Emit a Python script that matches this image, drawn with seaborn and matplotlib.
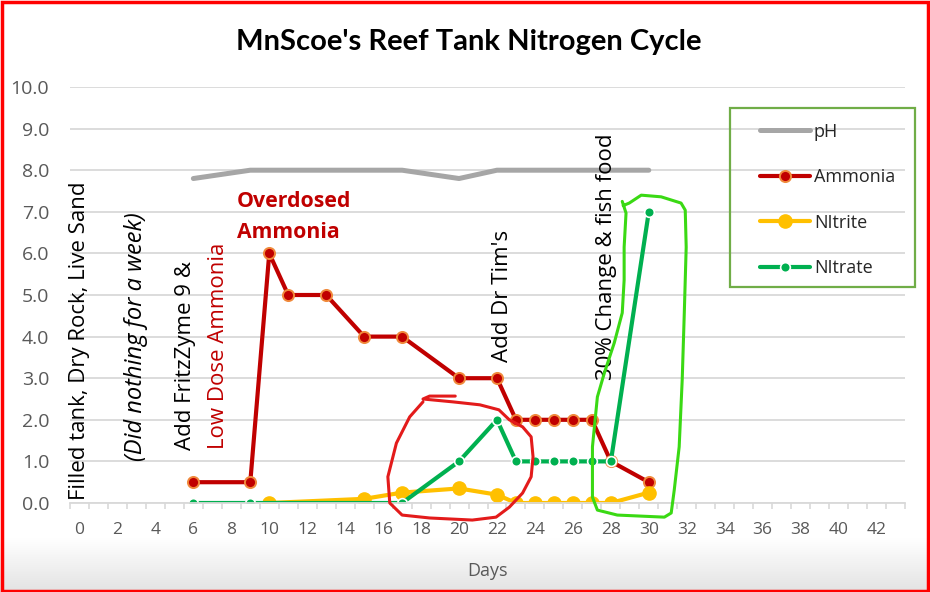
import matplotlib
matplotlib.use('Agg')
import matplotlib.pyplot as plt
import seaborn as sns
import numpy as np
from matplotlib.patches import Rectangle

sns.set_style('white')
plt.rcParams['font.family'] = ['Open Sans', 'DejaVu Sans']

# readings per day
ph_days = [6, 9, 10, 11, 13, 15, 17, 20, 22, 23, 24, 25, 26, 27, 28, 30]
ph = [7.8, 8.0, 8.0, 8.0, 8.0, 8.0, 8.0, 7.8, 8.0, 8.0, 8.0, 8.0, 8.0, 8.0, 8.0, 8.0]

ammonia_days = [6, 9, 10, 11, 13, 15, 17, 20, 22, 23, 24, 25, 26, 27, 28, 30]
ammonia = [0.5, 0.5, 6.0, 5.0, 5.0, 4.0, 4.0, 3.0, 3.0, 2.0, 2.0, 2.0, 2.0, 2.0, 1.0, 0.5]

nitrite_days = [10, 15, 17, 20, 22, 23, 24, 25, 26, 27, 28, 30]
nitrite = [0.0, 0.1, 0.25, 0.35, 0.2, 0.0, 0.0, 0.0, 0.0, 0.0, 0.0, 0.25]

nitrate_days = [6, 9, 17, 20, 22, 23, 24, 25, 26, 27, 28, 30]
nitrate = [0.0, 0.0, 0.0, 1.0, 2.0, 1.0, 1.0, 1.0, 1.0, 1.0, 1.0, 7.0]

x_labels = list(range(0, 43, 2))
y_ticks = [float(v) for v in range(0, 11)]

# hand drawn loops (day, value)
red_loop_x = [18.1, 17.4, 16.7, 16.25, 16.35, 17.0, 18.45, 20.7, 21.95, 22.65, 23.35, 23.8, 23.9,
              23.8, 23.35, 22.65, 22.1, 21.1, 19.7, 18.1, 18.45, 19.8]
red_loop_y = [2.43, 2.07, 1.44, 0.63, 0.0, -0.29, -0.36, -0.41, -0.34, -0.1, 0.24, 0.63, 1.11,
              1.59, 1.83, 2.0, 2.24, 2.36, 2.43, 2.5, 2.57, 2.57]
green_loop_x = [28.65, 28.97, 29.6, 30.65, 31.7, 31.92, 31.97, 31.87, 31.76, 31.6, 31.34, 31.18,
                30.82, 28.34, 27.29, 27.03, 27.03, 27.29, 27.66, 28.18, 28.6, 28.7, 28.7, 28.8, 28.6]
green_loop_y = [7.15, 7.21, 7.4, 7.36, 7.21, 7.04, 6.15, 4.57, 2.96, 1.35, 0.31, -0.24,
                -0.34, -0.29, -0.17, 0.14, 1.35, 2.55, 3.13, 3.85, 4.57, 5.36, 6.15, 6.97, 7.25]

fig = plt.figure(figsize=(9.3, 5.92), dpi=100)

# light grey fade at the bottom of the chart area
bg = fig.add_axes([0, 0, 1, 1], zorder=-5)
bg.axis('off')
fade = np.linspace(1.0, 0.89, 60).reshape(-1, 1, 1) * np.ones((1, 1, 3))
bg.imshow(fade, extent=[0, 1, 0, 54 / 592], aspect='auto')
bg.set_xlim(0, 1)
bg.set_ylim(0, 1)

ax = fig.add_axes([70 / 930, 89 / 592, 835 / 930, 416 / 592])
ax.set_facecolor('white')

sns.lineplot(x=ph_days, y=ph, ax=ax, color='#A6A6A6', lw=3.6, label='pH',
             solid_capstyle='round', solid_joinstyle='round')
sns.lineplot(x=ammonia_days, y=ammonia, ax=ax, color='#C00000', lw=3, label='Ammonia',
             marker='o', markersize=8, markerfacecolor='#C00000',
             markeredgecolor='#F08A3C', markeredgewidth=1.4, solid_joinstyle='round')
sns.lineplot(x=nitrite_days, y=nitrite, ax=ax, color='#FFC000', lw=3, label='NItrite',
             marker='o', markersize=9.5, markerfacecolor='#FFC000',
             markeredgecolor='#FFC000', markeredgewidth=1, solid_joinstyle='round')
sns.lineplot(x=nitrate_days, y=nitrate, ax=ax, color='#00B050', lw=3, label='NItrate',
             marker='o', markersize=7, markerfacecolor='#00B050',
             markeredgecolor='white', markeredgewidth=1.2, solid_joinstyle='round')

ax.set_xlim(-0.5, 43.5)
ax.set_ylim(0, 10)

ax.set_yticks(y_ticks)
ax.set_yticklabels([f'{v:.1f}' for v in y_ticks])
ax.yaxis.grid(True, color='#D9D9D9', lw=1.3)
ax.xaxis.grid(False)
ax.tick_params(axis='y', length=0, pad=15, labelsize=14, labelcolor='#595959')

ax.set_xticks(x_labels)
ax.set_xticklabels([str(v) for v in x_labels])
ax.set_xticks(np.arange(-0.5, 44, 1), minor=True)
ax.tick_params(axis='x', which='major', length=0, pad=14, labelsize=12.5, labelcolor='#595959')
ax.tick_params(axis='x', which='minor', length=4, width=1.2, color='#D9D9D9', direction='out', bottom=True)

for s in ['top', 'right', 'left']:
    ax.spines[s].set_visible(False)
ax.spines['bottom'].set_color('#D9D9D9')
ax.spines['bottom'].set_linewidth(1.3)
ax.set_axisbelow(True)

ax.set_xlabel('Days', fontsize=13, color='#595959', labelpad=17)
ax.set_ylabel('')

# notes
note = dict(rotation=90, ha='center', va='bottom', fontsize=16, color='black')
ax.text(0, 0.07, 'Filled tank, Dry Rock, Live Sand', **note)
ax.text(3, 1.0, '(Did nothing for a week)', style='italic', **{**note, 'fontsize': 17})
ax.text(5.6, 1.27, 'Add FritzZyme 9 &', **note)
ax.text(7.35, 1.3, 'Low Dose Ammonia', **{**note, 'color': '#C00000'})
ax.text(22.3, 3.39, "Add Dr Tim's", **note)
ax.text(27.75, 2.96, '30% Change & fish food', **note)
ax.text(8.3, 7.25, 'Overdosed', color='#C00000', fontsize=15.3, fontweight='bold', va='center', ha='left')
ax.text(8.3, 6.5, 'Ammonia', color='#C00000', fontsize=15.3, fontweight='bold', va='center', ha='left')

ax.plot(red_loop_x, red_loop_y, color='#E31B1B', lw=2.2, clip_on=False, zorder=8,
        solid_joinstyle='round', solid_capstyle='round')
ax.plot(green_loop_x, green_loop_y, color='#3AD914', lw=2.2, clip_on=False, zorder=8,
        solid_joinstyle='round', solid_capstyle='round')

# legend box drawn separately so the entries can sit further in
leg = ax.legend(loc='upper left', bbox_to_anchor=(745 / 930, 1 - 108 / 592, 165 / 930, 0.0),
                bbox_transform=fig.transFigure, mode='expand', frameon=False,
                fontsize=13, handlelength=2.8, labelspacing=1.52,
                borderpad=0.82, handletextpad=0.2, borderaxespad=0)
for t in leg.get_texts():
    t.set_color('#262626')
fig.patches.append(Rectangle((730 / 930, 1 - 287 / 592), 185 / 930, 179 / 592, transform=fig.transFigure,
                             fill=False, edgecolor='#70AD47', lw=1.6))

fig.text(469 / 930, 1 - 42 / 592, "MnScoe's Reef Tank Nitrogen Cycle", ha='center', va='center',
         fontsize=21, fontweight='bold', color='black', family=['Lato', 'DejaVu Sans'])

fig.patches.append(Rectangle((1.5 / 930, 1.5 / 592), 926 / 930, 589 / 592, transform=fig.transFigure,
                             fill=False, edgecolor='#FF0000', lw=2.5))

fig.savefig('out.png', dpi=100)
